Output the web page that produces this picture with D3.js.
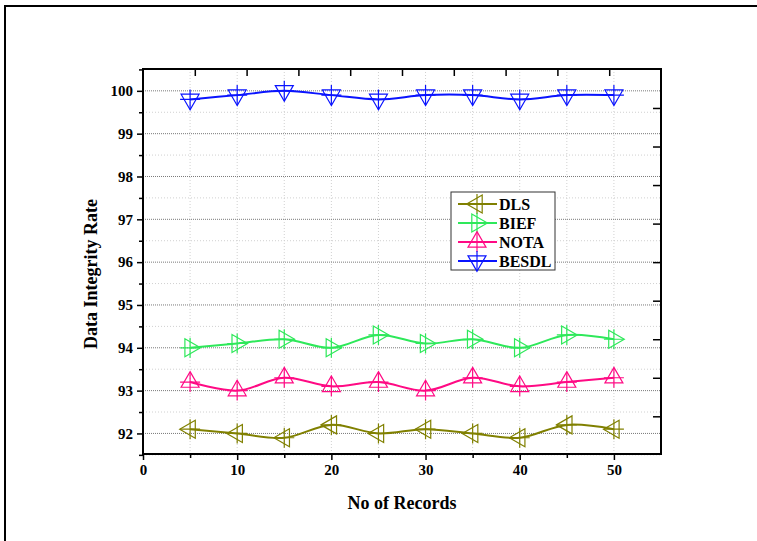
<!DOCTYPE html>
<html>
<head>
<meta charset="utf-8">
<script src="https://cdn.jsdelivr.net/npm/d3@7"></script>
<style>
  body { margin: 0; background: #fff; }
  svg text { font-family: "Liberation Serif", "Times New Roman", serif; font-weight: bold; }
</style>
</head>
<body>
<div id="chart"></div>
<script>
var records = [5, 10, 15, 20, 25, 30, 35, 40, 45, 50];
var dls   = [92.1, 92.0, 91.9, 92.2, 92.0, 92.1, 92.0, 91.9, 92.2, 92.1];
var bief  = [94.0, 94.1, 94.2, 94.0, 94.3, 94.1, 94.2, 94.0, 94.3, 94.2];
var nota  = [93.2, 93.0, 93.3, 93.1, 93.2, 93.0, 93.3, 93.1, 93.2, 93.3];
var besdl = [99.8, 99.9, 100.0, 99.9, 99.8, 99.9, 99.9, 99.8, 99.9, 99.9];

var xTicks = [0, 10, 20, 30, 40, 50];
var xMinor = [5, 15, 25, 35, 45];
var yTicks = [92, 93, 94, 95, 96, 97, 98, 99, 100];
var yMinor = [91.5, 92.5, 93.5, 94.5, 95.5, 96.5, 97.5, 98.5, 99.5, 100.5];
var xGrid = [5, 10, 15, 20, 25, 30, 35, 40, 45, 50];
var topTicks = [5.5, 11, 16.5, 22, 27.5, 33, 38.5, 44, 49.5];
var rightTicks = [92.4, 93.3, 94.2, 95.1, 96, 96.9, 97.8, 98.7, 99.6];

var series = [
  {name: "DLS",   values: dls,   color: "#808000", rot: -90},
  {name: "BIEF",  values: bief,  color: "#2ee85a", rot: 90},
  {name: "NOTA",  values: nota,  color: "#ff0a84", rot: 0},
  {name: "BESDL", values: besdl, color: "#0a14ff", rot: 180}
];

var W = 757, H = 541;
var margin = {top: 69, right: 96, bottom: 87, left: 143};
var width = W - margin.left - margin.right;
var height = H - margin.top - margin.bottom;

var svg = d3.select("#chart").append("svg")
    .attr("width", W)
    .attr("height", H);

// outer frame
svg.append("rect")
    .attr("x", 5).attr("y", 6)
    .attr("width", 800).attr("height", 600)
    .attr("fill", "none")
    .attr("stroke", "#000")
    .attr("stroke-width", 2);

var g = svg.append("g")
    .attr("transform", "translate(" + margin.left + "," + margin.top + ")");

var x = d3.scaleLinear().domain([0, 55]).range([0, width]);
var y = d3.scaleLinear().domain([91.52, 100.51]).range([height, 0]);

// grid
g.selectAll(".vgrid").data(xGrid).enter().append("line")
    .attr("x1", function(d) { return x(d); })
    .attr("x2", function(d) { return x(d); })
    .attr("y1", 0).attr("y2", height)
    .attr("stroke", "#d0d0d0")
    .attr("stroke-dasharray", "1,2");

g.selectAll(".hminor").data(yMinor).enter().append("line")
    .attr("x1", 0).attr("x2", width)
    .attr("y1", function(d) { return y(d); })
    .attr("y2", function(d) { return y(d); })
    .attr("stroke", "#d0d0d0")
    .attr("stroke-dasharray", "1,2");

g.selectAll(".hmajor").data(yTicks).enter().append("line")
    .attr("x1", 0).attr("x2", width)
    .attr("y1", function(d) { return y(d); })
    .attr("y2", function(d) { return y(d); })
    .attr("stroke", "#7a7a7a")
    .attr("stroke-dasharray", "1,1");

// axes
var xAxis = g.append("g")
    .attr("transform", "translate(0," + height + ")")
    .call(d3.axisBottom(x).tickValues(xTicks).tickSize(6).tickPadding(4).tickSizeOuter(0));
var xMinorAxis = g.append("g")
    .attr("transform", "translate(0," + height + ")")
    .call(d3.axisBottom(x).tickValues(xMinor).tickSize(4).tickFormat("").tickSizeOuter(0));

var yAxis = g.append("g")
    .call(d3.axisLeft(y).tickValues(yTicks).tickSize(6).tickPadding(4).tickSizeOuter(0));
var yMinorAxis = g.append("g")
    .call(d3.axisLeft(y).tickValues(yMinor).tickSize(4).tickFormat("").tickSizeOuter(0));

var topAxis = g.append("g")
    .call(d3.axisBottom(x).tickValues(topTicks).tickSize(7).tickFormat("").tickSizeOuter(0));
var rightAxis = g.append("g")
    .attr("transform", "translate(" + width + ",0)")
    .call(d3.axisLeft(y).tickValues(rightTicks).tickSize(8).tickFormat("").tickSizeOuter(0));

[xAxis, xMinorAxis, yAxis, yMinorAxis, topAxis, rightAxis].forEach(function(a) {
  a.select(".domain").remove();
  a.selectAll(".tick line").attr("stroke", "#000").attr("stroke-width", 1.5);
  a.selectAll("text").attr("font-size", 15).attr("fill", "#000")
      .attr("font-family", "Liberation Serif, serif").attr("font-weight", "bold");
});

g.append("rect")
    .attr("x", 0).attr("y", 0)
    .attr("width", width).attr("height", height)
    .attr("fill", "none")
    .attr("stroke", "#000")
    .attr("stroke-width", 2);

// lines
var line = d3.line()
    .x(function(d) { return x(d[0]); })
    .y(function(d) { return y(d[1]); })
    .curve(d3.curveCatmullRom.alpha(0.5));

var tri = d3.symbol().type(d3.symbolTriangle).size(140);

function drawMarker(sel, color, rot) {
  sel.append("path")
      .attr("d", tri)
      .attr("transform", "rotate(" + rot + ")")
      .attr("fill", "none")
      .attr("stroke", color)
      .attr("stroke-width", 1.2);
  sel.append("path")
      .attr("d", "M-10,0H10M0,-10V10")
      .attr("fill", "none")
      .attr("stroke", color)
      .attr("stroke-width", 1.2);
}

series.forEach(function(s) {
  var pts = records.map(function(r, i) { return [r, s.values[i]]; });
  g.append("path")
      .datum(pts)
      .attr("d", line)
      .attr("fill", "none")
      .attr("stroke", s.color)
      .attr("stroke-width", 2);
  g.selectAll(null).data(pts).enter().append("g")
      .attr("transform", function(d) { return "translate(" + x(d[0]) + "," + y(d[1]) + ")"; })
      .each(function() { drawMarker(d3.select(this), s.color, s.rot); });
});

// legend
var legend = svg.append("g").attr("transform", "translate(451,192)");
legend.append("rect")
    .attr("width", 104).attr("height", 78)
    .attr("fill", "#fff")
    .attr("stroke", "#333")
    .attr("stroke-width", 1);
series.forEach(function(s, i) {
  var row = legend.append("g").attr("transform", "translate(0," + (12 + i * 19) + ")");
  row.append("line")
      .attr("x1", 7).attr("x2", 46)
      .attr("stroke", s.color).attr("stroke-width", 2);
  var m = row.append("g").attr("transform", "translate(26,0)");
  drawMarker(m, s.color, s.rot);
  row.append("text")
      .attr("x", 48).attr("y", 5.5)
      .attr("font-size", 16)
      .text(s.name);
});

// axis titles
svg.append("text")
    .attr("x", 402)
    .attr("y", 509)
    .attr("text-anchor", "middle")
    .attr("font-size", 18)
    .text("No of Records");

svg.append("text")
    .attr("transform", "translate(97,274) rotate(-90)")
    .attr("text-anchor", "middle")
    .attr("font-size", 18)
    .text("Data Integrity Rate");
</script>
</body>
</html>
